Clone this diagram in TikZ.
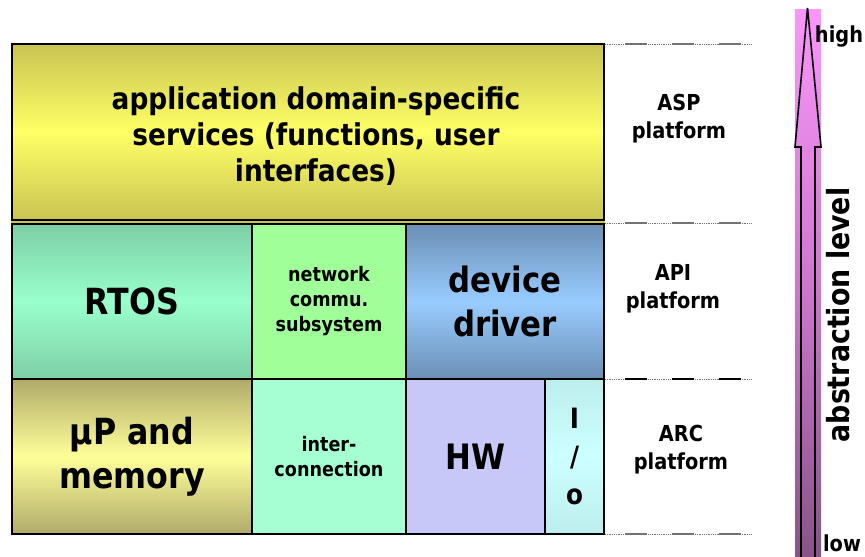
\documentclass[tikz,border=0pt]{standalone}
\usepackage{fontspec}
\setmainfont[FakeStretch=0.88]{DejaVu Sans}
\definecolor{aspedge}{RGB}{200,196,82}
\definecolor{aspmid}{RGB}{255,255,102}
\definecolor{rtosedge}{RGB}{125,207,165}
\definecolor{rtosmid}{RGB}{153,255,204}
\definecolor{netfill}{RGB}{160,255,152}
\definecolor{devedge}{RGB}{107,143,181}
\definecolor{devmid}{RGB}{153,204,255}
\definecolor{upedge}{RGB}{176,170,106}
\definecolor{upmid}{RGB}{255,255,153}
\definecolor{icfill}{RGB}{166,255,210}
\definecolor{hwfill}{RGB}{200,200,248}
\definecolor{ioedge}{RGB}{189,238,238}
\definecolor{iomid}{RGB}{204,255,255}
\definecolor{arrtop}{RGB}{250,150,250}
\definecolor{arrmid}{RGB}{205,120,205}
\definecolor{arrbot}{RGB}{135,85,135}
\definecolor{sepgray}{RGB}{115,115,115}
\begin{document}
\begin{tikzpicture}[x=1pt,y=-1pt,
  layer/.style={draw=black, line width=2.4pt, inner sep=0pt, align=center, font=\bfseries},
  sidelabel/.style={align=center, font=\bfseries\fontsize{22}{28}\selectfont, inner sep=0pt},
  dotsep/.style={sepgray, line width=0.9pt, dash pattern=on 0.9pt off 0.9pt},
  dashsep/.style={sepgray, line width=1.1pt, dash pattern=on 22pt off 25pt},
  boldsep/.style={black, line width=1.8pt, dash pattern=on 22pt off 25pt}]
\useasboundingbox (0,0) rectangle (865,557);

% abstraction scale: shaded column with an outlined arrow
\node[inner sep=0pt, minimum width=26pt, minimum height=548pt,
      top color=arrtop, bottom color=arrbot, middle color=arrmid] (scale) at (808,283) {};
\draw[line width=1.6pt, line join=miter]
  (801,557) -- (801,147) -- (795,147) -- (807.5,8) -- (821,147) -- (815,147) -- (815,557);
\node[font=\bfseries\fontsize{22}{22}\selectfont, inner sep=0pt] (high) at (839,37) {high};
\node[font=\bfseries\fontsize{22}{22}\selectfont, inner sep=0pt] (low) at (842,543) {low};
\node[font=\bfseries\fontsize{30.5}{30.5}\selectfont, inner sep=0pt, rotate=90] (abst) at (838,315) {abstraction level};

% application layer
\node[layer, minimum width=592pt, minimum height=176pt,
      top color=aspedge, bottom color=aspedge, middle color=aspmid] (asp) at (308,132) {};
\node[font=\bfseries\fontsize{30}{36}\selectfont, align=center, inner sep=0pt] (asptext) at (316,136)
  {application domain-specific\\services (functions, user\\interfaces)};
\fill[aspedge] (11,221.2) rectangle (605,223.3);

% API layer
\node[layer, minimum width=240pt, minimum height=155pt,
      top color=rtosedge, bottom color=rtosedge, middle color=rtosmid,
      font=\bfseries\fontsize{36}{44}\selectfont] (rtos) at (132,301.5) {RTOS};
\node[layer, minimum width=154pt, minimum height=155pt, fill=netfill,
      font=\bfseries\fontsize{20}{25}\selectfont] (net) at (329,301.5) {network\\commu.\\subsystem};
\node[layer, minimum width=198pt, minimum height=155pt,
      top color=devedge, bottom color=devedge, middle color=devmid,
      font=\bfseries\fontsize{35}{44}\selectfont] (dev) at (505,301.5) {device\\driver};

% architecture layer
\node[layer, minimum width=240pt, minimum height=155pt,
      top color=upedge, bottom color=upedge, middle color=upmid,
      font=\bfseries\fontsize{36}{44}\selectfont] (up) at (132,456.5) {µP and\\memory};
\node[layer, minimum width=154pt, minimum height=155pt, fill=icfill,
      font=\bfseries\fontsize{20}{25}\selectfont] (ic) at (329,456.5) {inter-\\connection};
\node[layer, minimum width=139pt, minimum height=155pt, fill=hwfill,
      font=\bfseries\fontsize{35}{44}\selectfont] (hw) at (475.5,456.5) {HW};
\node[layer, minimum width=59pt, minimum height=155pt,
      top color=ioedge, bottom color=ioedge, middle color=iomid,
      font=\bfseries\fontsize{28}{38}\selectfont] (io) at (574.5,456.5) {I\\/\\o};

% platform boundaries
\coordinate (b1) at (752,44);
\coordinate (b2) at (752,223);
\coordinate (b3) at (752,379);
\coordinate (b4) at (752,534);
\foreach \b in {b1,b2,b3,b4} {
  \draw[dotsep] (605,0 |- \b) -- (\b);
}
\foreach \b in {b1,b2,b4} {
  \draw[dashsep] (625,0 |- \b) -- (741,0 |- \b);
}
\draw[boldsep] (625,0 |- b3) -- (741,0 |- b3);

% platform names
\node[sidelabel] (asplbl) at (679,119) {ASP\\platform};
\node[sidelabel] (apilbl) at (673,289) {API\\platform};
\node[sidelabel] (arclbl) at (681,450) {ARC\\platform};
\end{tikzpicture}
\end{document}
